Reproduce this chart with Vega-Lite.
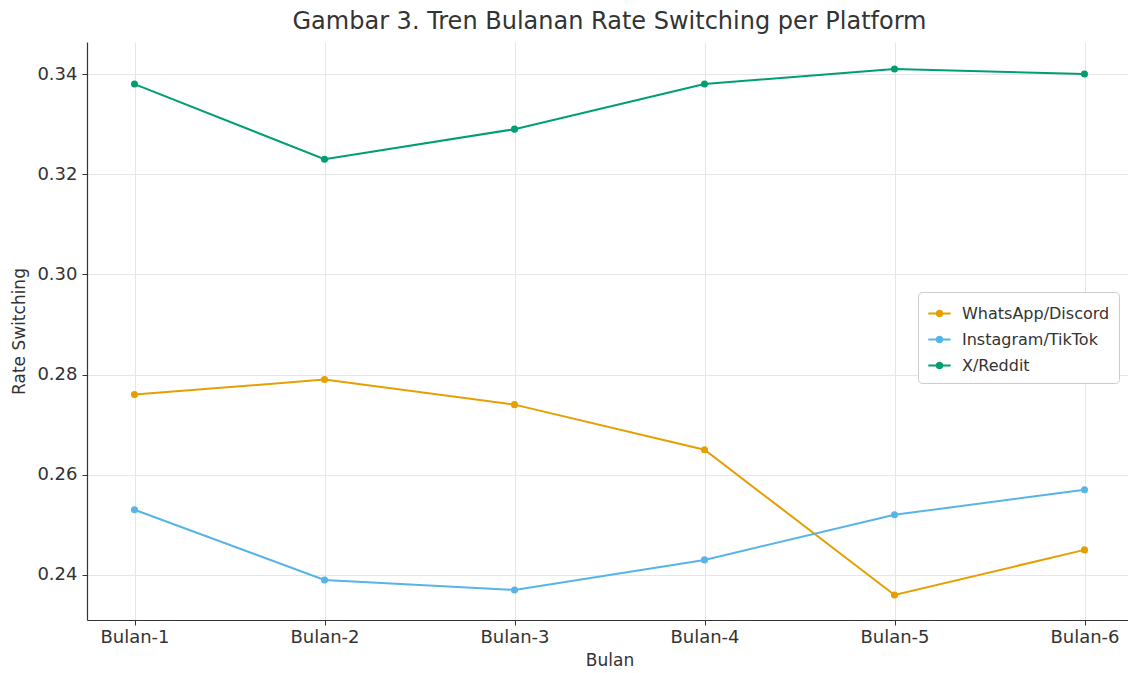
{
  "$schema": "https://vega.github.io/schema/vega-lite/v6.json",
  "width": 1045,
  "height": 578,
  "autosize": {"type": "none"},
  "padding": {"left": 87, "top": 42, "right": 0, "bottom": 53},
  "background": "white",
  "title": {
    "text": "Gambar 3. Tren Bulanan Rate Switching per Platform",
    "font": "DejaVu Sans",
    "fontSize": 24,
    "fontWeight": "normal",
    "color": "#333333",
    "offset": 8
  },
  "config": {
    "view": {"stroke": null},
    "font": "DejaVu Sans",
    "axis": {
      "labelFont": "DejaVu Sans",
      "titleFont": "DejaVu Sans",
      "labelFontSize": 18,
      "titleFontSize": 17,
      "titleFontWeight": "normal",
      "labelColor": "#333333",
      "titleColor": "#333333",
      "gridColor": "#e6e6e6",
      "gridWidth": 1,
      "domainColor": "#333333",
      "domainWidth": 1.2,
      "tickColor": "#333333",
      "tickSize": 5
    }
  },
  "data": {
    "values": [
      {"bulan": "Bulan-1", "platform": "WhatsApp/Discord", "rate": 0.276},
      {"bulan": "Bulan-2", "platform": "WhatsApp/Discord", "rate": 0.279},
      {"bulan": "Bulan-3", "platform": "WhatsApp/Discord", "rate": 0.274},
      {"bulan": "Bulan-4", "platform": "WhatsApp/Discord", "rate": 0.265},
      {"bulan": "Bulan-5", "platform": "WhatsApp/Discord", "rate": 0.236},
      {"bulan": "Bulan-6", "platform": "WhatsApp/Discord", "rate": 0.245},
      {"bulan": "Bulan-1", "platform": "Instagram/TikTok", "rate": 0.253},
      {"bulan": "Bulan-2", "platform": "Instagram/TikTok", "rate": 0.239},
      {"bulan": "Bulan-3", "platform": "Instagram/TikTok", "rate": 0.237},
      {"bulan": "Bulan-4", "platform": "Instagram/TikTok", "rate": 0.243},
      {"bulan": "Bulan-5", "platform": "Instagram/TikTok", "rate": 0.252},
      {"bulan": "Bulan-6", "platform": "Instagram/TikTok", "rate": 0.257},
      {"bulan": "Bulan-1", "platform": "X/Reddit", "rate": 0.338},
      {"bulan": "Bulan-2", "platform": "X/Reddit", "rate": 0.323},
      {"bulan": "Bulan-3", "platform": "X/Reddit", "rate": 0.329},
      {"bulan": "Bulan-4", "platform": "X/Reddit", "rate": 0.338},
      {"bulan": "Bulan-5", "platform": "X/Reddit", "rate": 0.341},
      {"bulan": "Bulan-6", "platform": "X/Reddit", "rate": 0.340}
    ]
  },
  "mark": {"type": "line", "strokeWidth": 2, "point": {"size": 50, "filled": true}},
  "encoding": {
    "x": {
      "field": "bulan",
      "type": "ordinal",
      "scale": {"type": "point", "padding": 0.25},
      "axis": {"title": "Bulan", "labelAngle": 0, "labelPadding": 3, "titlePadding": 6, "grid": true}
    },
    "y": {
      "field": "rate",
      "type": "quantitative",
      "scale": {"domain": [0.231, 0.3464], "nice": false, "zero": false},
      "axis": {"title": "Rate Switching", "values": [0.24, 0.26, 0.28, 0.30, 0.32, 0.34], "format": ".2f", "titlePadding": 8, "labelPadding": 5}
    },
    "color": {
      "field": "platform",
      "type": "nominal",
      "scale": {
        "domain": ["WhatsApp/Discord", "Instagram/TikTok", "X/Reddit"],
        "range": ["#E69F00", "#56B4E9", "#009E73"]
      },
      "legend": {
        "title": null,
        "orient": "none",
        "legendX": 831,
        "legendY": 250,
        "fillColor": "white",
        "strokeColor": "#cccccc",
        "cornerRadius": 4,
        "padding": 9,
        "labelFont": "DejaVu Sans",
        "labelFontSize": 16,
        "labelColor": "#333333",
        "labelOffset": 10,
        "symbolType": "M-1,0L1,0M-0.25,0A0.25,0.25,0,1,0,0.25,0A0.25,0.25,0,1,0,-0.25,0Z",
        "symbolStrokeWidth": 2,
        "symbolSize": 500,
        "rowPadding": 5,
        "encode": {
          "symbols": {"update": {"fill": {"scale": "color", "field": "value"}, "fillOpacity": {"value": 1}}}
        }
      }
    }
  }
}
